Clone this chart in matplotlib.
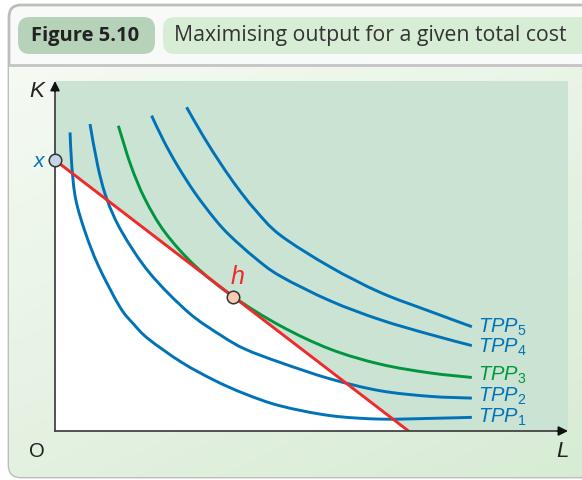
import numpy as np
import matplotlib
matplotlib.use('Agg')
import matplotlib.pyplot as plt
from matplotlib.patches import FancyBboxPatch, Polygon, PathPatch
from matplotlib.path import Path

plt.rcParams['font.family'] = ['Liberation Sans', 'DejaVu Sans']
plt.rcParams['mathtext.fontset'] = 'custom'
plt.rcParams['mathtext.it'] = 'Liberation Sans:italic'
plt.rcParams['mathtext.rm'] = 'Liberation Sans'

# isoquants, read as (L, K) points
tpp1_L = [0.43, 0.48, 0.59, 0.86, 1.24, 1.85, 2.25, 2.67, 3.62, 4.57, 5.43, 6.43, 7.86, 9.29, 10.71, 11.91]
tpp1_K = [8.53, 7.58, 6.63, 5.69, 4.72, 3.55, 3.05, 2.63, 1.96, 1.44, 1.06, 0.72, 0.44, 0.34, 0.36, 0.39]
tpp2_L = [1.0, 1.22, 1.48, 1.91, 2.7, 3.81, 4.76, 5.43, 6.43, 7.86, 9.29, 10.71, 11.91]
tpp2_K = [8.77, 7.58, 6.63, 5.69, 4.52, 3.39, 2.72, 2.34, 1.96, 1.49, 1.15, 0.99, 0.94]
tpp3_L = [1.81, 2.17, 2.57, 3.14, 4.0, 5.09, 6.43, 7.86, 9.29, 10.71, 11.91]
tpp3_K = [8.72, 7.58, 6.63, 5.68, 4.72, 3.84, 3.01, 2.34, 1.91, 1.66, 1.53]
tpp4_L = [2.76, 3.1, 3.5, 4.0, 4.57, 5.0, 5.71, 6.43, 7.86, 9.29, 10.71, 11.91]
tpp4_K = [9.01, 8.3, 7.58, 6.8, 6.05, 5.58, 4.95, 4.43, 3.72, 3.18, 2.76, 2.44]
tpp5_L = [3.76, 4.25, 4.76, 5.2, 5.71, 6.43, 7.86, 9.29, 10.71, 11.91]
tpp5_K = [9.25, 8.4, 7.6, 6.97, 6.33, 5.6, 4.69, 3.96, 3.42, 2.98]

# isocost line intercepts and tangency point
iso_K0 = 7.74
iso_L0 = 10.1
h_L, h_K = 5.09, 3.84

labels = ['TPP$_1$', 'TPP$_2$', 'TPP$_3$', 'TPP$_4$', 'TPP$_5$']
label_K = [0.42, 1.02, 1.63, 2.43, 3.0]

L_MAX, K_MAX = 14.657, 10.0

BLUE = '#0072b8'
GREEN = '#00963f'
RED = '#ee2a2a'
SHADE = '#cbe3d2'


def smooth_path(xs, ys):
    # Catmull-Rom through the points, drawn as cubic Bezier segments
    pts = np.column_stack([xs, ys])
    verts = [pts[0]]
    codes = [Path.MOVETO]
    n = len(pts)
    for i in range(n - 1):
        p0 = pts[max(i - 1, 0)]
        p1 = pts[i]
        p2 = pts[i + 1]
        p3 = pts[min(i + 2, n - 1)]
        verts += [p1 + (p2 - p0) / 6, p2 - (p3 - p1) / 6, p2]
        codes += [Path.CURVE4] * 3
    return Path(verts, codes)


fig = plt.figure(figsize=(5.82, 4.81), dpi=100)

# frame, header and panel background in pixel coordinates
bg = fig.add_axes([0, 0, 1, 1])
bg.set_xlim(0, 582)
bg.set_ylim(481, 0)
bg.axis('off')

frame = FancyBboxPatch((9, 6), 620, 472, boxstyle='round,pad=0,rounding_size=12',
                       fc='#f7faf6', ec='#bdbdbd', lw=2, zorder=1)
bg.add_patch(frame)
grad = np.linspace(0, 1, 256).reshape(-1, 1) * np.ones((1, 32))
grad = grad * 0.6 + np.linspace(0, 1, 32).reshape(1, -1) * 0.4
cmap = matplotlib.colors.LinearSegmentedColormap.from_list('panel', ['#f5faf3', '#d7ebd4'])
im = bg.imshow(grad, extent=(9, 629, 478, 67), cmap=cmap, aspect='auto', zorder=2)
im.set_clip_path(frame)
bg.plot([10, 582], [66, 66], color='#c4c4c4', lw=2, zorder=3)

bg.add_patch(FancyBboxPatch((18, 18), 137, 37, boxstyle='round,pad=0,rounding_size=12',
                            fc='#b6d2b9', ec='none', zorder=3))
bg.add_patch(FancyBboxPatch((163, 18), 440, 37, boxstyle='round,pad=0,rounding_size=12',
                            fc='#d8edd6', ec='none', zorder=3))
bg.text(85, 36, 'Figure 5.10', fontsize=14.5, fontweight='bold', color='#222222',
        family=['Open Sans', 'DejaVu Sans'], ha='center', va='center', zorder=4)
bg.text(174, 36, 'Maximising output for a given total cost', fontsize=15.3,
        color='#333333', family=['Open Sans', 'DejaVu Sans'],
        ha='left', va='center', zorder=4)

# chart
ax = fig.add_axes([55 / 582, 49 / 481, 513 / 582, 350 / 481])
ax.patch.set_visible(False)
ax.set_xlim(0, L_MAX)
ax.set_ylim(0, K_MAX)
ax.axis('off')

ax.fill_between([0, L_MAX], 0, K_MAX, color=SHADE, lw=0, zorder=1)
ax.add_patch(Polygon([(0, 0), (0, iso_K0), (iso_L0, 0)], closed=True,
                     fc='white', ec='none', zorder=2))

curves = [(tpp1_L, tpp1_K, BLUE), (tpp2_L, tpp2_K, BLUE), (tpp3_L, tpp3_K, GREEN),
          (tpp4_L, tpp4_K, BLUE), (tpp5_L, tpp5_K, BLUE)]
for (Ls, Ks, c), lab, ky in zip(curves, labels, label_K):
    ax.add_patch(PathPatch(smooth_path(Ls, Ks), fill=False, ec=c, lw=2.1,
                           capstyle='butt', zorder=4))
    ax.text(Ls[-1] + 0.17, ky, lab, color=c, fontsize=14.5, style='italic',
            ha='left', va='center', zorder=6)

ax.plot([0, iso_L0], [iso_K0, 0], color=RED, lw=2.1, zorder=5)

# axes with arrow heads
ax.plot([0, 0], [0, K_MAX - 0.2], color='#444444', lw=1.3, zorder=6, clip_on=False)
ax.plot([0, L_MAX - 0.2], [0, 0], color='#444444', lw=1.3, zorder=6, clip_on=False)
ax.annotate('', xy=(0, K_MAX), xytext=(0, K_MAX - 0.3),
            arrowprops=dict(arrowstyle='-|>', color='#111111', lw=1.2,
                            mutation_scale=14, shrinkA=0, shrinkB=0), zorder=7)
ax.annotate('', xy=(L_MAX, 0), xytext=(L_MAX - 0.3, 0),
            arrowprops=dict(arrowstyle='-|>', color='#111111', lw=1.2,
                            mutation_scale=14, shrinkA=0, shrinkB=0), zorder=7)

ax.plot([0], [iso_K0], 'o', ms=9, mfc='#c5d4e8', mec='#333333', mew=1.1,
        zorder=8, clip_on=False)
ax.plot([h_L], [h_K], 'o', ms=9, mfc='#f7cbb2', mec='#333333', mew=1.1, zorder=8)

ax.text(-0.3, K_MAX - 0.28, 'K', fontsize=16, style='italic', color='#222222',
        ha='right', va='center')
ax.text(-0.3, iso_K0, 'x', fontsize=15, style='italic', color=BLUE,
        ha='right', va='center')
ax.text(-0.3, -0.55, 'O', fontsize=14.5, color='#222222', ha='right', va='center')
ax.text(L_MAX - 0.15, -0.55, 'L', fontsize=16, style='italic', color='#222222',
        ha='center', va='center')
ax.text(h_L + 0.12, h_K + 0.6, 'h', fontsize=18, style='italic', color=RED,
        ha='center', va='center', zorder=8)

fig.savefig('out.png', dpi=100)
